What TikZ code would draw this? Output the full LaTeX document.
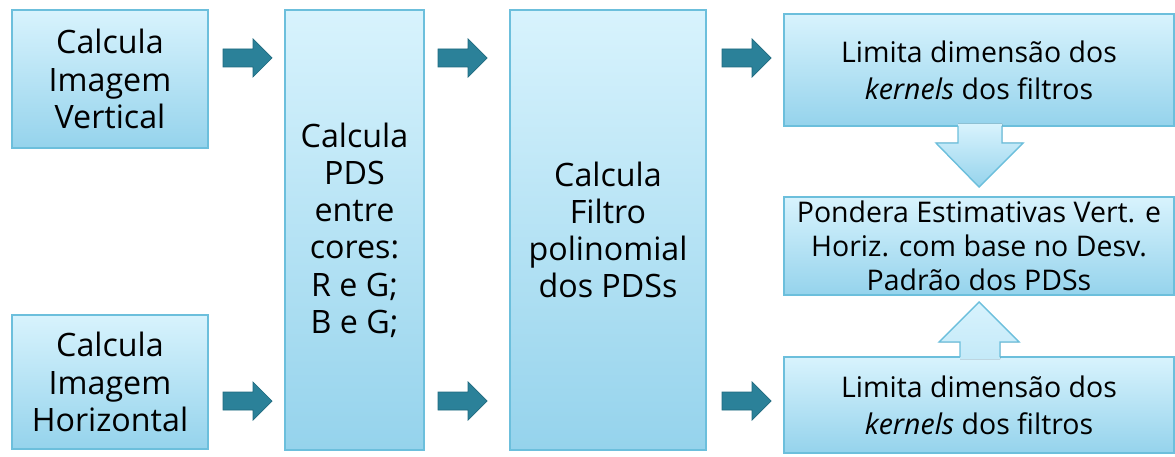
\documentclass[tikz,border=0pt]{standalone}
\usepackage{fontspec}
\setmainfont{Open Sans}
\usetikzlibrary{positioning}

\definecolor{boxtop}{HTML}{D8F3FD}
\definecolor{boxbot}{HTML}{95D3EC}
\definecolor{boxline}{HTML}{6CBFDC}
\definecolor{arrowteal}{HTML}{2B8199}
\definecolor{tealdark}{HTML}{1F6A7F}

\tikzset{
  stagebox/.style={draw=boxline, line width=1.2pt, top color=boxtop,
    bottom color=boxbot, align=center, inner sep=0pt},
  bigtext/.style={font=\fontsize{27.5}{31.8}\selectfont},
  midtext/.style={font=\fontsize{24.3}{31.5}\selectfont},
  smalltext/.style={font=\fontsize{24.3}{29}\selectfont},
}

\begin{document}
\begin{tikzpicture}[x=0.03cm,y=-0.03cm]

  \useasboundingbox (0,0) rectangle (1175,457);

  % stage boxes
  \node[stagebox, bigtext, minimum width=5.88cm, minimum height=4.14cm]
    (vert) at (110,79) {Calcula\\Imagem\\Vertical};
  \node[stagebox, bigtext, minimum width=5.88cm, minimum height=4.02cm]
    (horiz) at (110,382) {Calcula\\Imagem\\Horizontal};
  \node[stagebox, bigtext, minimum width=4.17cm, minimum height=13.2cm]
    (pds) at (354.5,230) {Calcula\\PDS\\entre\\cores:\\R e G;\\B e G;};
  \node[stagebox, bigtext, minimum width=5.88cm, minimum height=13.2cm]
    (filtro) at (608,230) {Calcula\\Filtro\\polinomial\\dos PDSs};
  \node[stagebox, midtext, minimum width=11.7cm, minimum height=3.36cm]
    (limtop) at (979,70) {Limita dimensão dos\\\textit{kernels} dos filtros};
  \node[stagebox, smalltext, minimum width=11.7cm, minimum height=2.94cm]
    (pondera) at (979,246) {Pondera Estimativas Vert. e\\Horiz. com base no Desv.\\Padrão dos PDSs};
  \node[stagebox, midtext, minimum width=11.7cm, minimum height=2.88cm]
    (limbot) at (979,405) {Limita dimensão dos\\\textit{kernels} dos filtros};

  % small teal arrows
  \foreach \x in {223, 438, 722}
    \foreach \y in {58, 401}
      \draw[fill=arrowteal, draw=tealdark, line width=0.6pt, line join=miter]
        (\x,\y-9) -- ++(30,0) -- ++(0,-10) -- ++(19,19) -- ++(-19,19)
        -- ++(0,-10) -- ++(-30,0) -- cycle;

  % big arrows into the weighting box
  \fill[top color=boxtop, bottom color=boxbot]
    (958,124) -- (958,143) -- (936,143) -- (979,187) -- (1023,143)
    -- (1002,143) -- (1002,124) -- cycle;
  \draw[boxline, line width=1.2pt, line join=miter]
    (958,126) -- (958,143) -- (936,143) -- (979,187) -- (1023,143)
    -- (1002,143) -- (1002,126);
  \fill[top color=boxtop, bottom color=boxtop!70!boxbot]
    (960,359) -- (960,342) -- (939,342) -- (979,302) -- (1019,342)
    -- (1000,342) -- (1000,359) -- cycle;
  \draw[boxline, line width=1.2pt, line join=miter]
    (960,357) -- (960,342) -- (939,342) -- (979,302) -- (1019,342)
    -- (1000,342) -- (1000,357);

\end{tikzpicture}
\end{document}
